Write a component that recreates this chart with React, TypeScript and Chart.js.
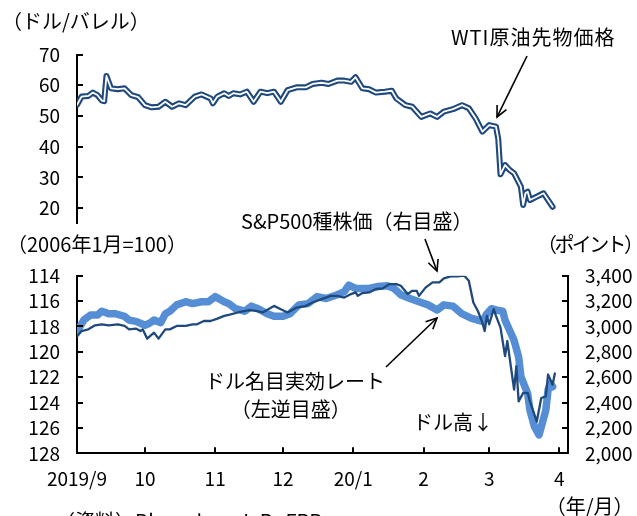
import React, { useEffect, useRef } from "react";
import { Chart, registerables } from "chart.js";
Chart.register(...registerables);

// ---------- data ----------
const MONTH_STARTS = ["2019-09-01", "2019-10-01", "2019-11-01", "2019-12-01", "2020-01-01", "2020-02-01", "2020-03-01", "2020-04-01"];
const MONTH_LABELS = ["2019/9", "10", "11", "12", "20/1", "2", "3", "4"];

const WTI_TICKS = [20, 30, 40, 50, 60, 70];
const USD_TICKS = [114, 116, 118, 120, 122, 124, 126, 128];
const SPX_TICKS = [2000, 2200, 2400, 2600, 2800, 3000, 3200, 3400];

const WTI_DATES = [
  "2019-09-01", "2019-09-03", "2019-09-06", "2019-09-08", "2019-09-10", "2019-09-12", "2019-09-13", "2019-09-14",
  "2019-09-16", "2019-09-19", "2019-09-22", "2019-09-25", "2019-09-28", "2019-10-01", "2019-10-04", "2019-10-07",
  "2019-10-10", "2019-10-13", "2019-10-16", "2019-10-19", "2019-10-23", "2019-10-26", "2019-10-30", "2019-10-31",
  "2019-11-02", "2019-11-05", "2019-11-07", "2019-11-09", "2019-11-12", "2019-11-15", "2019-11-18", "2019-11-21",
  "2019-11-24", "2019-11-27", "2019-11-30", "2019-12-03", "2019-12-07", "2019-12-11", "2019-12-14", "2019-12-18",
  "2019-12-21", "2019-12-25", "2019-12-28", "2019-12-31", "2020-01-02", "2020-01-05", "2020-01-08", "2020-01-11",
  "2020-01-15", "2020-01-18", "2020-01-20", "2020-01-24", "2020-01-27", "2020-01-31", "2020-02-04", "2020-02-07",
  "2020-02-10", "2020-02-14", "2020-02-18", "2020-02-21", "2020-02-24", "2020-02-27", "2020-03-01", "2020-03-04",
  "2020-03-05", "2020-03-06", "2020-03-08", "2020-03-10", "2020-03-12", "2020-03-15", "2020-03-16", "2020-03-17",
  "2020-03-18", "2020-03-19", "2020-03-22", "2020-03-25", "2020-03-29",
];
const WTI_VALUES = [
  53.6, 56.3, 56.5, 57.6, 56.8, 55.0, 54.8, 63.0,
  59.0, 58.7, 59.0, 56.8, 56.1, 53.5, 52.8, 53.0,
  54.6, 53.0, 54.1, 53.5, 56.3, 57.0, 55.7, 54.1,
  56.3, 57.4, 56.5, 57.4, 57.0, 57.9, 54.6, 57.9,
  57.4, 57.9, 54.6, 58.4, 59.3, 59.3, 60.4, 60.8,
  60.4, 61.5, 61.5, 61.1, 62.6, 59.0, 58.7, 57.6,
  57.9, 58.2, 55.7, 53.5, 53.0, 49.7, 50.8, 49.7,
  51.4, 52.2, 53.5, 52.5, 49.2, 44.9, 47.0, 46.5,
  42.5, 31.0, 34.0, 32.4, 31.3, 27.0, 21.0, 24.8,
  25.3, 22.6, 23.7, 24.8, 20.4,
];

const USD_DATES = [
  "2019-09-01", "2019-09-04", "2019-09-07", "2019-09-10", "2019-09-12", "2019-09-15", "2019-09-18", "2019-09-22",
  "2019-09-24", "2019-09-27", "2019-09-29", "2019-10-01", "2019-10-03", "2019-10-05", "2019-10-08", "2019-10-10",
  "2019-10-12", "2019-10-15", "2019-10-19", "2019-10-22", "2019-10-26", "2019-10-29", "2019-11-01", "2019-11-05",
  "2019-11-07", "2019-11-10", "2019-11-14", "2019-11-17", "2019-11-20", "2019-11-24", "2019-11-27", "2019-12-01",
  "2019-12-04", "2019-12-08", "2019-12-12", "2019-12-16", "2019-12-20", "2019-12-25", "2019-12-28", "2019-12-30",
  "2020-01-02", "2020-01-05", "2020-01-08", "2020-01-12", "2020-01-16", "2020-01-19", "2020-01-22", "2020-01-26",
  "2020-01-30", "2020-02-03", "2020-02-07", "2020-02-10", "2020-02-14", "2020-02-18", "2020-02-22", "2020-02-25",
  "2020-02-27", "2020-02-29", "2020-03-02", "2020-03-04", "2020-03-07", "2020-03-08", "2020-03-10", "2020-03-12",
  "2020-03-14", "2020-03-15", "2020-03-18", "2020-03-19", "2020-03-21", "2020-03-23", "2020-03-24", "2020-03-26",
  "2020-03-27", "2020-03-28", "2020-03-29",
];
const USD_VALUES = [
  118.4, 117.5, 117.1, 117.1, 116.8, 117.0, 117.0, 117.2,
  117.5, 117.6, 117.75, 117.9, 117.75, 117.5, 117.7, 117.0,
  116.8, 116.3, 116.05, 116.2, 116.05, 116.05, 115.65, 116.05,
  116.2, 116.6, 116.8, 116.4, 116.6, 117.0, 117.2, 117.2,
  117.0, 116.3, 116.2, 115.65, 115.8, 115.5, 115.25, 114.75,
  115.0, 115.0, 115.0, 114.85, 114.8, 115.0, 115.5, 115.8,
  116.05, 116.3, 116.7, 116.3, 116.4, 117.0, 117.35, 117.5,
  117.6, 117.0, 116.6, 116.7, 116.8, 117.5, 118.3, 119.1,
  120.4, 121.95, 123.3, 124.6, 125.9, 126.55, 125.9, 124.6,
  123.0, 122.5, 122.75,
];

const SPX_DATES = [
  "2019-09-01", "2019-09-03", "2019-09-06", "2019-09-09", "2019-09-12", "2019-09-15", "2019-09-19", "2019-09-22",
  "2019-09-24", "2019-09-27", "2019-09-29", "2019-09-30", "2019-10-02", "2019-10-05", "2019-10-07", "2019-10-10",
  "2019-10-12", "2019-10-15", "2019-10-19", "2019-10-22", "2019-10-24", "2019-10-27", "2019-10-30", "2019-11-02",
  "2019-11-05", "2019-11-07", "2019-11-11", "2019-11-16", "2019-11-19", "2019-11-22", "2019-11-27", "2019-11-30",
  "2019-12-03", "2019-12-07", "2019-12-11", "2019-12-14", "2019-12-18", "2019-12-22", "2019-12-25", "2019-12-28",
  "2019-12-31", "2020-01-02", "2020-01-03", "2020-01-05", "2020-01-08", "2020-01-11", "2020-01-14", "2020-01-17",
  "2020-01-20", "2020-01-22", "2020-01-25", "2020-01-27", "2020-01-29", "2020-01-30", "2020-02-02", "2020-02-05",
  "2020-02-08", "2020-02-10", "2020-02-13", "2020-02-16", "2020-02-19", "2020-02-21", "2020-02-23", "2020-02-25",
  "2020-02-27", "2020-02-28", "2020-02-29", "2020-03-01", "2020-03-03", "2020-03-04", "2020-03-06", "2020-03-08",
  "2020-03-09", "2020-03-12", "2020-03-13", "2020-03-14", "2020-03-16", "2020-03-18", "2020-03-19", "2020-03-22",
  "2020-03-24", "2020-03-26", "2020-03-27", "2020-03-29", "2020-03-30",
];
const SPX_VALUES = [
  2920, 2964, 2977, 3009, 3017, 3009, 3017, 3004,
  2977, 2983, 2964, 2977, 2904, 2951, 2904, 2977,
  2977, 3004, 3004, 3017, 3017, 3043, 3043, 3062,
  3083, 3091, 3110, 3128, 3122, 3110, 3162, 3136,
  3110, 3149, 3162, 3189, 3215, 3241, 3241, 3228,
  3255, 3268, 3241, 3263, 3268, 3295, 3300, 3334,
  3334, 3321, 3255, 3281, 3281, 3241, 3308, 3348,
  3348, 3379, 3395, 3395, 3400, 3360, 3189, 3122,
  3030, 2964, 3083, 3017, 3136, 3083, 2991, 2766,
  2885, 2502, 2687, 2409, 2476, 2476, 2409, 2250,
  2436, 2449, 2621, 2541, 2629,
];

// ---------- helpers ----------
const BASE = Date.UTC(2019, 8, 1);
const dayOf = (s: string) => {
  const [y, m, d] = s.split("-").map(Number);
  return (Date.UTC(y, m - 1, d) - BASE) / 86400000;
};
const pts = (dates: string[], vals: number[]) => dates.map((d, i) => ({ x: dayOf(d), y: vals[i] }));
const X_MAX = 216.8;
const TICK_FONT = { family: "'Noto Sans CJK JP', 'Liberation Sans', sans-serif", size: 19 };
const NAVY = "#1F497D";
const LIGHT = "#558ED5";

const inwardTicks = {
  id: "inwardTicks",
  afterDraw(chart: any) {
    const ctx = chart.ctx;
    const a = chart.chartArea;
    ctx.save();
    ctx.strokeStyle = "#000";
    ctx.lineWidth = 2;
    Object.values(chart.scales).forEach((s: any) => {
      if (!s.options.display) return;
      s.ticks.forEach((t: any) => {
        const p = Math.round(s.getPixelForValue(t.value));
        ctx.beginPath();
        if (s.axis === "x") {
          ctx.moveTo(p, a.bottom);
          ctx.lineTo(p, a.bottom - 6);
        } else if (s.position === "left") {
          ctx.moveTo(a.left, p);
          ctx.lineTo(a.left + 6, p);
        } else {
          ctx.moveTo(a.right, p);
          ctx.lineTo(a.right - 6, p);
        }
        ctx.stroke();
      });
    });
    ctx.restore();
  },
};

const xScale = (display: boolean) => ({
  type: "linear",
  display,
  min: 0,
  max: X_MAX,
  afterBuildTicks: (s: any) => {
    s.ticks = MONTH_STARTS.map((d) => ({ value: dayOf(d) }));
  },
  afterFit: (s: any) => {
    if (display) s.height = 62.7;
    s.paddingLeft = 0;
    s.paddingRight = 0;
  },
  grid: { display: false, drawTicks: false },
  border: { display: true, color: "#000", width: 2 },
  ticks: {
    autoSkip: false,
    maxRotation: 0,
    padding: 14,
    color: "#000",
    font: TICK_FONT,
    callback: (_v: any, i: number) => MONTH_LABELS[i],
  },
});

const yScale = (position: string, min: number, max: number, ticks: number[], width: number, extra: any = {}) => ({
  type: "linear",
  position,
  min,
  max,
  afterBuildTicks: (s: any) => {
    s.ticks = ticks.map((v) => ({ value: v }));
  },
  afterFit: (s: any) => {
    s.width = width;
    s.paddingTop = 0;
    s.paddingBottom = 0;
  },
  grid: { display: false, drawTicks: false },
  border: { display: true, color: "#000", width: 2 },
  ...extra,
  ticks: { autoSkip: false, padding: 17, color: "#000", font: TICK_FONT, ...(extra.ticks || {}) },
});

const lineDs = (data: any[], color: string, width: number, yAxisID: string) => ({
  data,
  borderColor: color,
  borderWidth: width,
  pointRadius: 0,
  tension: 0,
  fill: false,
  borderJoinStyle: "round",
  borderCapStyle: "round",
  yAxisID,
});

function TopChart() {
  const ref = useRef<HTMLCanvasElement>(null);
  useEffect(() => {
    const wti = pts(WTI_DATES, WTI_VALUES);
    const chart = new Chart(ref.current!, {
      type: "line",
      data: {
        datasets: [lineDs(wti, "#ffffff", 1.8, "y") as any, lineDs(wti, NAVY, 6, "y") as any],
      },
      options: {
        responsive: false,
        animation: false,
        events: [],
        layout: { padding: { left: 0, right: 69, top: 54.5, bottom: 16.6 } },
        plugins: { legend: { display: false }, tooltip: { enabled: false } },
        scales: {
          x: xScale(false) as any,
          y: yScale("left", 15, 70, WTI_TICKS, 77) as any,
        },
      },
      plugins: [inwardTicks],
    });
    return () => chart.destroy();
  }, []);
  return <canvas ref={ref} width={637} height={240} style={{ position: "absolute", left: 0, top: 0 }} />;
}

function BottomChart() {
  const ref = useRef<HTMLCanvasElement>(null);
  useEffect(() => {
    const chart = new Chart(ref.current!, {
      type: "line",
      data: {
        datasets: [
          lineDs(pts(SPX_DATES, SPX_VALUES), NAVY, 2.3, "yR") as any,
          lineDs(pts(USD_DATES, USD_VALUES), LIGHT, 7.5, "yL") as any,
        ],
      },
      options: {
        responsive: false,
        animation: false,
        events: [],
        layout: { padding: { left: 0, right: 0, top: 35.7, bottom: 0 } },
        plugins: { legend: { display: false }, tooltip: { enabled: false } },
        scales: {
          x: xScale(true) as any,
          yL: yScale("left", 114, 128, USD_TICKS, 77, { reverse: true }) as any,
          yR: yScale("right", 2000, 3400, SPX_TICKS, 69, {
            ticks: { callback: (v: any) => Number(v).toLocaleString("en-US") },
          }) as any,
        },
      },
      plugins: [inwardTicks],
    });
    return () => chart.destroy();
  }, []);
  return <canvas ref={ref} width={637} height={276} style={{ position: "absolute", left: 0, top: 240 }} />;
}

const JP = "'Noto Sans CJK JP', sans-serif";
function Label({ x, y, text, size = 20, ls = 0 }: { x: number; y: number; text: string; size?: number; ls?: number }) {
  return (
    <div
      style={{
        position: "absolute",
        left: x,
        top: y,
        fontFamily: JP,
        fontSize: size,
        lineHeight: `${size}px`,
        letterSpacing: ls,
        whiteSpace: "nowrap",
        color: "#000",
      }}
    >
      {text}
    </div>
  );
}

function Arrow({ x1, y1, x2, y2 }: { x1: number; y1: number; x2: number; y2: number }) {
  const ang = Math.atan2(y2 - y1, x2 - x1);
  const L = 12;
  const a1 = ang + Math.PI - 0.45;
  const a2 = ang + Math.PI + 0.45;
  const p1 = `${x2 + L * Math.cos(a1)},${y2 + L * Math.sin(a1)}`;
  const p2 = `${x2 + L * Math.cos(a2)},${y2 + L * Math.sin(a2)}`;
  return (
    <g stroke="#000" strokeWidth={1.6} fill="none">
      <line x1={x1} y1={y1} x2={x2} y2={y2} />
      <polyline points={`${p1} ${x2},${y2} ${p2}`} />
    </g>
  );
}

export default function App() {
  return (
    <div style={{ position: "absolute", left: 0, top: 0, width: 637, height: 516, overflow: "hidden", background: "#fff" }}>
      <TopChart />
      <BottomChart />
      <svg width={637} height={516} style={{ position: "absolute", left: 0, top: 0, pointerEvents: "none" }}>
        <Arrow x1={527} y1={56} x2={497} y2={117} />
        <Arrow x1={425} y1={239} x2={437} y2={271} />
        <Arrow x1={386} y1={367} x2={437} y2={318} />
      </svg>
      <Label x={2} y={10.5} text="（ドル/バレル）" />
      <Label x={451} y={26.5} text="WTI原油先物価格" ls={1} />
      <Label x={241} y={210.5} text="S&P500種株価（右目盛）" />
      <Label x={7} y={234} text="（2006年1月=100）" />
      <Label x={537} y={234} text="（ポイント）" ls={-2.6} />
      <Label x={205} y={370.7} text="ドル名目実効レート" />
      <Label x={230.7} y={399} text="（左逆目盛）" />
      <Label x={413} y={412.3} text="ドル高↓" />
      <Label x={545.7} y={495.7} text="（年/月）" />
      <Label x={55} y={511} text="（資料）Bloomberg L.P., FRB" />
    </div>
  );
}
